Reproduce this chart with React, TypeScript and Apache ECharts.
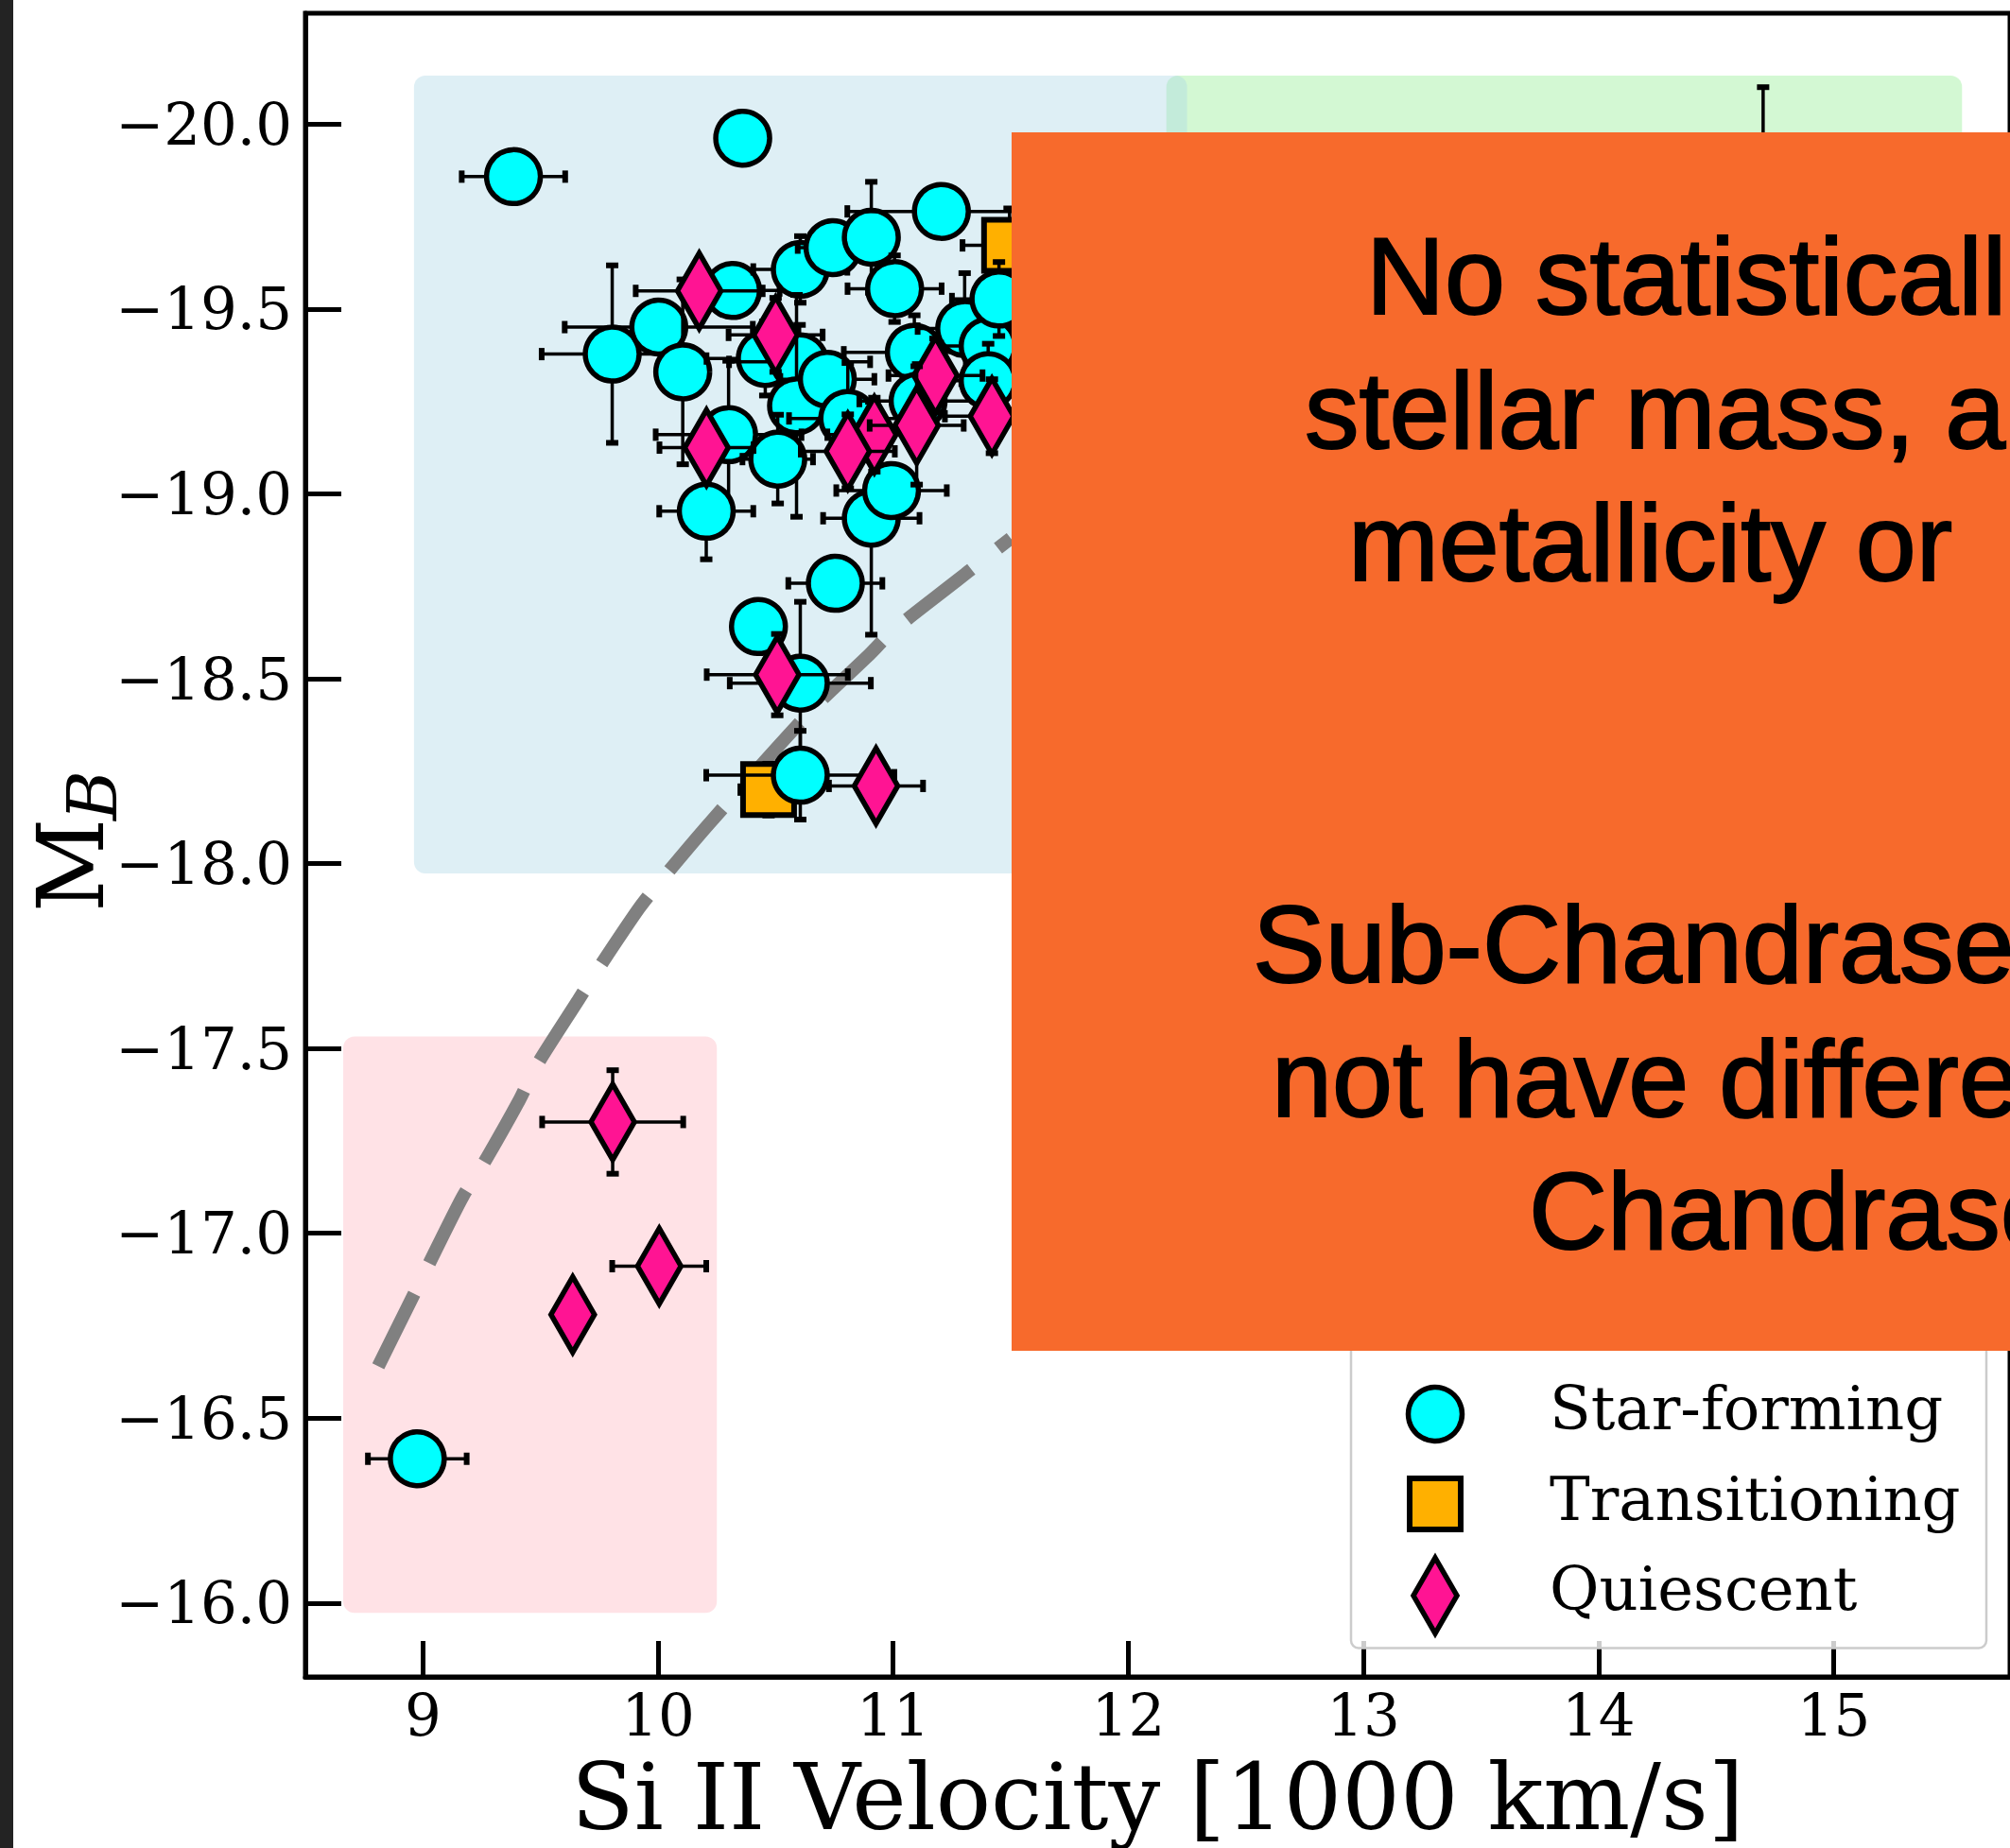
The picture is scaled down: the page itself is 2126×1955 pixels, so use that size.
import React, { useEffect, useRef } from 'react';
import * as echarts from 'echarts';

const W = 2126;
const H = 1955;

// Axis ticks
const X_TICKS = [9, 10, 11, 12, 13, 14, 15];
const Y_TICKS = [-20, -19.5, -19, -18.5, -18, -17.5, -17, -16.5, -16];

// Points: [Si II velocity (1000 km/s), M_B, x error, y error]
const STAR_FORMING = [
  [9.385, -19.858, 0.22, 0],
  [10.36, -19.962, 0, 0],
  [9.805, -19.378, 0.3, 0.24],
  [10.003, -19.451, 0.4, 0],
  [10.105, -19.33, 0.1, 0.25],
  [10.317, -19.55, 0.2, 0],
  [10.605, -19.607, 0.2, 0.09],
  [10.744, -19.666, 0.15, 0],
  [10.907, -19.694, 0.1, 0.15],
  [11.205, -19.764, 0.4, 0],
  [11.006, -19.555, 0.2, 0.09],
  [10.456, -19.366, 0.25, 0.1],
  [10.602, -19.357, 0.3, 0.1],
  [10.589, -19.238, 0.1, 0.3],
  [10.72, -19.31, 0.2, 0],
  [10.807, -19.204, 0.25, 0.15],
  [10.3, -19.16, 0.31, 0.2],
  [10.509, -19.094, 0.15, 0.12],
  [10.205, -18.953, 0.2, 0.13],
  [10.907, -18.934, 0.205, 0.315],
  [10.993, -19.009, 0.235, 0.05],
  [10.754, -18.758, 0.2, 0],
  [10.427, -18.641, 0, 0],
  [10.605, -18.488, 0.3, 0.22],
  [10.605, -18.239, 0.4, 0.12],
  [11.09, -19.383, 0.3, 0.1],
  [11.106, -19.251, 0.25, 0.1],
  [11.304, -19.447, 0.2, 0.15],
  [11.404, -19.4, 0.2, 0.1],
  [11.404, -19.306, 0.2, 0.1],
  [11.45, -19.527, 0.2, 0.1],
  [8.976, -16.39, 0.21, 0],
  [14.7, -19.6, 0.2, 0.5],
];

const TRANSITIONING = [
  [10.47, -18.2, 0.12, 0.07],
  [11.495, -19.672, 0.2, 0.1],
];

const QUIESCENT = [
  [10.175, -19.549, 0.27, 0],
  [10.5, -19.43, 0.2, 0.1],
  [10.206, -19.125, 0.2, 0],
  [10.92, -19.16, 0.2, 0.1],
  [10.807, -19.115, 0.2, 0.1],
  [11.18, -19.32, 0.2, 0.1],
  [11.1, -19.185, 0.2, 0.16],
  [11.42, -19.21, 0.2, 0.1],
  [10.507, -18.511, 0.3, 0.11],
  [10.927, -18.21, 0.2, 0],
  [9.807, -17.301, 0.3, 0.14],
  [9.637, -16.78, 0, 0],
  [10.005, -16.911, 0.2, 0],
];

// Dashed trend curve
const CURVE_X = [8.81, 8.95, 9.02, 9.17, 9.25, 9.41, 9.48, 9.66, 9.74, 9.92, 10.02, 10.22, 10.66, 10.89, 11.0, 11.26, 11.38, 11.5];
const CURVE_Y = [-16.64, -16.82, -16.91, -17.1, -17.18, -17.36, -17.45, -17.63, -17.71, -17.88, -17.96, -18.11, -18.42, -18.56, -18.63, -18.76, -18.82, -18.88];

// Shaded regions: [x0, y0, x1, y1]
const REGIONS = [
  [12.162, -20.131, 15.546, -17.98],
  [8.962, -20.131, 12.25, -17.973],
  [8.661, -17.532, 10.25, -15.973],
];
const REGION_COLORS = ['rgba(144,238,144,0.4)', 'rgba(173,216,230,0.4)', 'rgba(255,182,193,0.4)'];

const LEGEND_NAMES = ['Star-forming', 'Transitioning', 'Quiescent'];
const ANNOTATION_LINES = ['No statisticall', 'stellar mass, a', 'metallicity or', 'Sub-Chandrase', 'not have differe', 'Chandrase'];

const SERIF = '"DejaVu Serif", serif';

function marker(kind: string, cx: number, cy: number, z?: number) {
  const extra: any = z != null ? { z } : {};
  if (kind === 'circle') {
    return { type: 'circle', ...extra, shape: { cx, cy, r: 28.5 }, style: { fill: '#00ffff', stroke: '#000', lineWidth: 5.5 } };
  }
  if (kind === 'square') {
    return { type: 'rect', ...extra, shape: { x: cx - 27, y: cy - 27, width: 54, height: 54 }, style: { fill: '#ffb000', stroke: '#000', lineWidth: 6 } };
  }
  return {
    type: 'polygon',
    ...extra,
    shape: { points: [[cx, cy - 40], [cx + 23, cy], [cx, cy + 40], [cx - 23, cy]] },
    style: { fill: '#ff1493', stroke: '#000', lineWidth: 5.5, lineJoin: 'miter', miterLimit: 10 },
  };
}

function pointRenderer(kind: string) {
  return (params: any, api: any) => {
    const x = api.value(0);
    const y = api.value(1);
    const xe = api.value(2);
    const ye = api.value(3);
    const c = api.coord([x, y]);
    const bar = { stroke: '#000', lineWidth: 3.5 };
    const cap = { stroke: '#000', lineWidth: 6 };
    const children: any[] = [];
    if (xe > 0) {
      const l = api.coord([x - xe, y]);
      const r = api.coord([x + xe, y]);
      children.push({ type: 'line', shape: { x1: l[0], y1: c[1], x2: r[0], y2: c[1] }, style: bar });
      children.push({ type: 'line', shape: { x1: l[0], y1: c[1] - 6.5, x2: l[0], y2: c[1] + 6.5 }, style: cap });
      children.push({ type: 'line', shape: { x1: r[0], y1: c[1] - 6.5, x2: r[0], y2: c[1] + 6.5 }, style: cap });
    }
    if (ye > 0) {
      const t = api.coord([x, y - ye]);
      const b = api.coord([x, y + ye]);
      children.push({ type: 'line', shape: { x1: c[0], y1: t[1], x2: c[0], y2: b[1] }, style: bar });
      children.push({ type: 'line', shape: { x1: c[0] - 6.5, y1: t[1], x2: c[0] + 6.5, y2: t[1] }, style: cap });
      children.push({ type: 'line', shape: { x1: c[0] - 6.5, y1: b[1], x2: c[0] + 6.5, y2: b[1] }, style: cap });
    }
    children.push(marker(kind, c[0], c[1]));
    return { type: 'group', children };
  };
}

function regionRenderer(params: any, api: any) {
  const p0 = api.coord([api.value(0), api.value(1)]);
  const p1 = api.coord([api.value(2), api.value(3)]);
  const x = Math.min(p0[0], p1[0]);
  const y = Math.min(p0[1], p1[1]);
  return {
    type: 'rect',
    shape: { x, y, width: Math.abs(p1[0] - p0[0]), height: Math.abs(p1[1] - p0[1]), r: 12 },
    style: { fill: REGION_COLORS[params.dataIndex] },
  };
}

const fmtY = (v: number) => (v < 0 ? '\u2212' : '') + Math.abs(v).toFixed(1);

const ANN_X = [1445, 1380, 1426, 1325, 1345, 1617];
const ANN_Y = [292, 434, 574, 999, 1141, 1281];

const legendText = (i: number, y: number) => ({
  type: 'text',
  z: 52,
  x: 1639,
  y,
  style: { text: LEGEND_NAMES[i], fontFamily: SERIF, fontSize: 64, fill: '#000', align: 'left', verticalAlign: 'middle' },
});

const option: any = {
  animation: false,
  backgroundColor: '#ffffff',
  grid: {
    left: 323,
    top: 14,
    right: -21,
    bottom: 178,
    show: true,
    borderColor: '#000',
    borderWidth: 5,
    backgroundColor: 'transparent',
  },
  xAxis: {
    type: 'value',
    min: 8.5,
    max: 15.75,
    name: 'Si II Velocity [1000 km/s]',
    nameLocation: 'middle',
    nameGap: 79,
    nameTextStyle: { fontFamily: SERIF, fontSize: 97, color: '#000' },
    axisLine: { onZero: false, lineStyle: { color: '#000', width: 5 } },
    axisTick: { inside: true, length: 38, customValues: X_TICKS, lineStyle: { color: '#000', width: 5 } },
    axisLabel: { customValues: X_TICKS, fontFamily: SERIF, fontSize: 61, color: '#000', margin: 10 },
    splitLine: { show: false },
  },
  yAxis: {
    type: 'value',
    inverse: true,
    min: -20.3,
    max: -15.8,
    axisLine: { onZero: false, lineStyle: { color: '#000', width: 5 } },
    axisTick: { inside: true, length: 38, customValues: Y_TICKS, lineStyle: { color: '#000', width: 5 } },
    axisLabel: { customValues: Y_TICKS, fontFamily: SERIF, fontSize: 61, color: '#000', margin: 14, formatter: fmtY },
    splitLine: { show: false },
  },
  series: [
    {
      type: 'custom',
      name: 'regions',
      z: 1,
      silent: true,
      renderItem: regionRenderer,
      data: REGIONS,
    },
    {
      type: 'line',
      name: 'trend',
      z: 2,
      silent: true,
      showSymbol: false,
      symbol: 'none',
      smooth: 0.25,
      data: CURVE_X.map((x, i) => [x, CURVE_Y[i]]),
      lineStyle: { color: '#808080', width: 14, type: [86, 36], cap: 'butt' },
    },
    {
      type: 'custom',
      name: LEGEND_NAMES[1],
      z: 3,
      silent: true,
      renderItem: pointRenderer('square'),
      data: TRANSITIONING,
    },
    {
      type: 'custom',
      name: LEGEND_NAMES[0],
      z: 4,
      silent: true,
      renderItem: pointRenderer('circle'),
      data: STAR_FORMING,
    },
    {
      type: 'custom',
      name: LEGEND_NAMES[2],
      z: 5,
      silent: true,
      renderItem: pointRenderer('diamond'),
      data: QUIESCENT,
    },
  ],
  graphic: {
    elements: [
      // legend
      { type: 'rect', z: 50, shape: { x: 1429, y: 1400, width: 672, height: 343.5, r: 8 }, style: { fill: 'rgba(255,255,255,0.8)', stroke: '#cccccc', lineWidth: 2.5 } },
      marker('circle', 1518, 1496, 51),
      marker('square', 1518, 1591, 51),
      marker('diamond', 1518, 1688, 51),
      legendText(0, 1490),
      legendText(1, 1586),
      legendText(2, 1681),
      // y-axis label M_B
      {
        type: 'group',
        x: 109,
        y: 965,
        rotation: Math.PI / 2,
        children: [
          { type: 'text', z: 60, x: 0, y: -33.6, style: { text: 'M', fontFamily: SERIF, fontSize: 97, fill: '#000', align: 'left', verticalAlign: 'middle' } },
          { type: 'text', z: 60, x: 97, y: -11, style: { text: 'B', fontFamily: SERIF, fontSize: 72, fontStyle: 'italic', fill: '#000', align: 'left', verticalAlign: 'middle' } },
        ],
      },
      // orange annotation box
      { type: 'rect', z: 100, shape: { x: 1070, y: 140, width: 1100, height: 1289 }, style: { fill: '#f76a2c' } },
      ...ANNOTATION_LINES.map((t, i) => ({
        type: 'text',
        z: 101,
        x: ANN_X[i],
        y: ANN_Y[i],
        style: {
          text: t,
          fontFamily: '"Liberation Sans", Arial, sans-serif',
          fontSize: 115,
          fill: '#000',
          stroke: '#000',
          lineWidth: 2,
          align: 'left',
          verticalAlign: 'middle',
        },
      })),
      // dark strip at the left edge
      { type: 'rect', z: 120, shape: { x: 0, y: 0, width: 14, height: H }, style: { fill: '#232323' } },
    ],
  },
};

export default function App() {
  const ref = useRef<HTMLDivElement>(null);
  useEffect(() => {
    document.body.style.margin = '0';
    document.body.style.overflow = 'hidden';
    const chart = echarts.init(ref.current as HTMLDivElement, null, { renderer: 'svg' });
    chart.setOption(option);
    return () => {
      chart.dispose();
    };
  }, []);
  return <div ref={ref} style={{ width: W, height: H, background: '#ffffff' }} />;
}
